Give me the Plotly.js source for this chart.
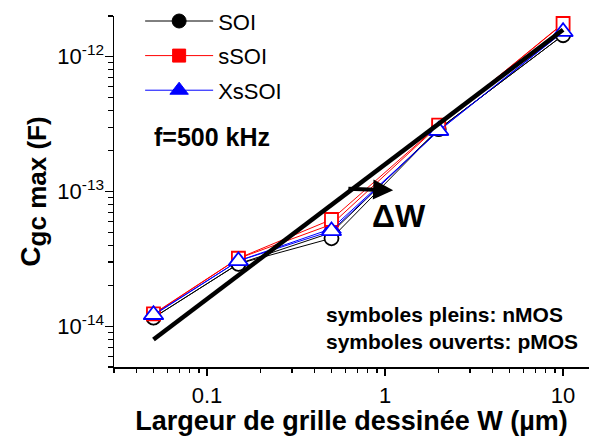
<!DOCTYPE html>
<html><head><meta charset="utf-8">
<script src="https://cdn.plot.ly/plotly-3.0.1.min.js"></script>
<style>html,body{margin:0;padding:0;background:#fff}#chart{width:589px;height:436px}</style>
</head><body><div id="chart"></div>
<script>
// Drawn gate width W (µm)
const widths = [0.05, 0.15, 0.5, 2, 10];
// Cgc max (F) — filled symbols: nMOS, open symbols: pMOS
const soiN   = [1.16e-14, 2.91e-14, 4.96e-14, 2.90e-13, 1.44e-12];
const soiP   = [1.16e-14, 2.91e-14, 4.50e-14, 2.90e-13, 1.44e-12];
const ssoiN  = [1.23e-14, 3.19e-14, 5.70e-14, 3.08e-13, 1.75e-12];
const ssoiP  = [1.24e-14, 3.20e-14, 6.20e-14, 3.10e-13, 1.76e-12];
const xssoiN = [1.21e-14, 3.06e-14, 5.30e-14, 2.81e-13, 1.52e-12];
const xssoiP = [1.22e-14, 3.06e-14, 5.10e-14, 2.83e-13, 1.53e-12];
// thick reference line
const trendW = [0.05, 10];
const trendC = [8.0e-15, 1.58e-12];
// arrow (tail, head) and label
const arrowW = [0.61, 1.11];
const arrowC = [1.05e-13, 1.02e-13];
const deltaLabelW = 1.19, deltaLabelC = 6.6e-14;
// ticks
const xTickVals = [0.1, 1, 10];
const xTickText = ['0.1', '1', '10'];
const yTickVals = [1e-14, 1e-13, 1e-12];
const yTickText = ['10<sup>-14</sup>', '10<sup>-13</sup>', '10<sup>-12</sup>'];
const seriesNames = ['SOI', 'sSOI', 'XsSOI'];
const seriesColors = ['#000000', '#ff0000', '#0000ff'];
const seriesSymbols = ['circle', 'square', 'triangle-up'];
const symbolSizes = [14, 13, 17];

const FONT = 'Liberation Sans, Arial, sans-serif';
const nData = [soiN, ssoiN, xssoiN];
const pData = [soiP, ssoiP, xssoiP];

const minorVals = [];
for (let e = -2; e <= 1; e++) for (let d = 2; d <= 9; d++) minorVals.push(d * Math.pow(10, e));
const minorY = [];
for (let e = -15; e <= -12; e++) for (let d = 2; d <= 9; d++) minorY.push(d * Math.pow(10, e));

const traces = [];
for (let i = 0; i < 3; i++) {
  traces.push({
    x: widths, y: nData[i], type: 'scatter', mode: 'lines+markers', name: seriesNames[i],
    legendgroup: 'g' + i, cliponaxis: false,
    line: {color: seriesColors[i], width: 1},
    marker: {symbol: seriesSymbols[i], size: symbolSizes[i], color: seriesColors[i], line: {color: seriesColors[i], width: 1}}
  });
}
for (let i = 0; i < 3; i++) {
  traces.push({
    x: widths, y: pData[i], type: 'scatter', mode: 'lines+markers', name: seriesNames[i] + ' pMOS',
    legendgroup: 'g' + i, showlegend: false, cliponaxis: false,
    line: {color: seriesColors[i], width: 1},
    marker: {symbol: seriesSymbols[i], size: symbolSizes[i], color: '#ffffff', line: {color: seriesColors[i], width: 1.8}}
  });
}
traces.push({
  x: trendW, y: trendC, type: 'scatter', mode: 'lines', showlegend: false, cliponaxis: false,
  line: {color: '#000000', width: 4.5}
});

const layout = {
  width: 589, height: 436,
  margin: {l: 114, r: 0, t: 9, b: 69, pad: 0},
  paper_bgcolor: '#ffffff', plot_bgcolor: '#ffffff',
  font: {family: FONT, color: '#000000', size: 22},
  showlegend: true,
  legend: {x: 0.055, y: 1.045, xanchor: 'left', yanchor: 'top', bgcolor: 'rgba(0,0,0,0)',
           font: {family: FONT, size: 22, color: '#000'}, itemwidth: 68, tracegroupgap: 3, traceorder: 'grouped'},
  xaxis: {
    type: 'log', range: [Math.log10(0.03), Math.log10(0.03) + 475 / 178],
    showgrid: false, zeroline: false, showline: true, linecolor: '#000', linewidth: 1.5,
    ticks: 'outside', ticklen: 7, tickwidth: 1.2, tickcolor: '#000',
    tickmode: 'array', tickvals: xTickVals, ticktext: xTickText, ticklabelstandoff: 1,
    tickfont: {family: FONT, size: 22, color: '#000'},
    minor: {tickmode: 'array', tickvals: minorVals, ticks: 'outside', ticklen: 4, tickwidth: 1.2, tickcolor: '#000', showgrid: false},
    title: {text: '<b>Largeur de grille dessinée W (µm)</b>', font: {family: FONT, size: 27, color: '#000'}, standoff: 9},
    automargin: false
  },
  yaxis: {
    type: 'log', range: [Math.log10(5e-15), Math.log10(2e-12)],
    showgrid: false, zeroline: false, showline: true, linecolor: '#000', linewidth: 1.5,
    ticks: 'outside', ticklen: 8, tickwidth: 1.2, tickcolor: '#000',
    tickmode: 'array', tickvals: yTickVals, ticktext: yTickText, ticklabelstandoff: -4,
    tickfont: {family: FONT, size: 22, color: '#000'},
    minor: {tickmode: 'array', tickvals: minorY, ticks: 'outside', ticklen: 5, tickwidth: 1.2, tickcolor: '#000', showgrid: false},
    title: {text: '<b>C<sub><span style="font-size:26px">gc max (F)</span></sub></b>', font: {family: FONT, size: 28, color: '#000'}, standoff: 8},
    automargin: false
  },
  annotations: [
    {xref: 'paper', yref: 'paper', x: 0.08, y: 0.656, xanchor: 'left', yanchor: 'middle', showarrow: false,
     text: '<b>f=500 kHz</b>', font: {family: FONT, size: 25, color: '#000'}},
    {xref: 'x', yref: 'y', x: Math.log10(deltaLabelW), y: Math.log10(deltaLabelC), showarrow: false,
     text: '<b>ΔW</b>', font: {family: FONT, size: 32, color: '#000'}},
    {xref: 'paper', yref: 'paper', x: 0.443, y: 0.11, xanchor: 'left', yanchor: 'middle', align: 'left', showarrow: false,
     text: '<b>symboles pleins: nMOS<br>symboles ouverts: pMOS</b>', font: {family: FONT, size: 21, color: '#000'}},
    {xref: 'x', yref: 'y', axref: 'x', ayref: 'y',
     x: Math.log10(arrowW[1]), y: Math.log10(arrowC[1]), ax: Math.log10(arrowW[0]), ay: Math.log10(arrowC[0]),
     showarrow: true, arrowhead: 2, arrowwidth: 4, arrowsize: 1.0, arrowcolor: '#000', text: '', standoff: 0, startstandoff: 0}
  ]
};

Plotly.newPlot('chart', traces, layout, {displayModeBar: false, staticPlot: true});
</script>
</body></html>
